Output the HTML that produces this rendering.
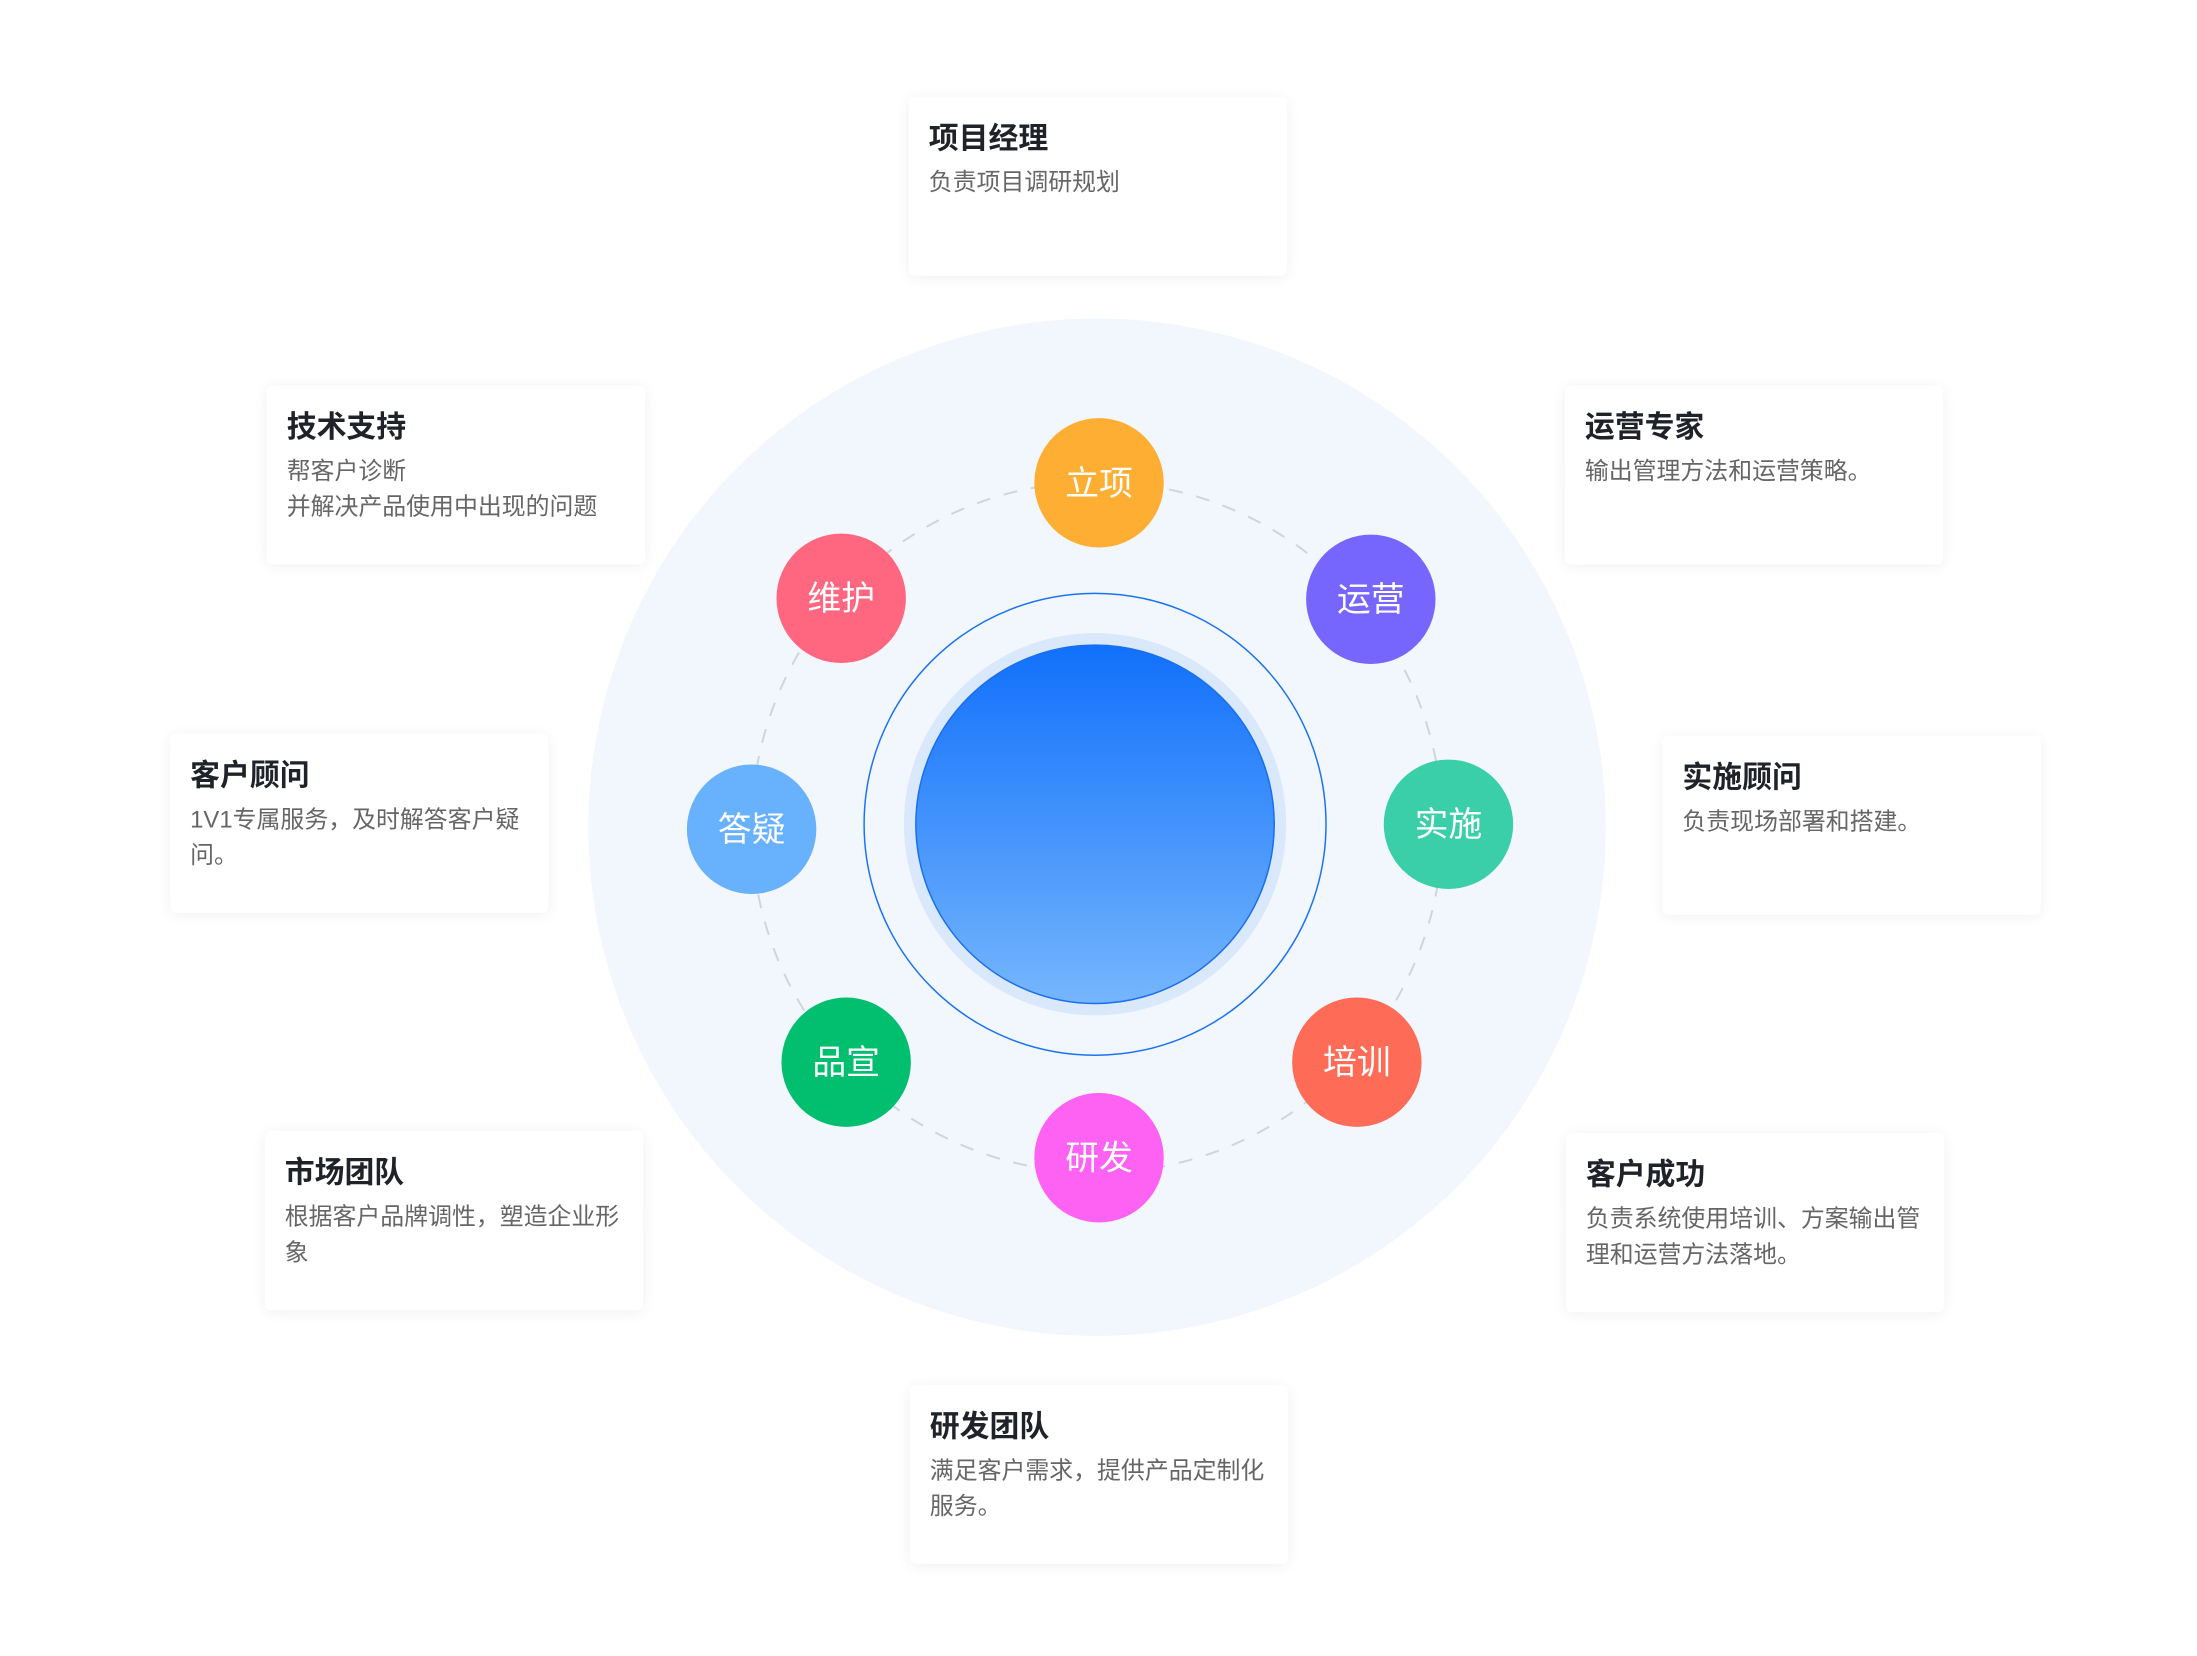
<!DOCTYPE html>
<html><head><meta charset="utf-8"><style>
body{margin:0;width:2197px;height:1656px;background:#fff;position:relative;overflow:hidden;font-family:"Liberation Sans","Noto Sans CJK SC",sans-serif}
#w{position:absolute;left:0;top:0;width:2197px;height:1656px;transform:scale(0.9955);transform-origin:0 0}
.box{position:absolute;width:380px;height:180px;background:#fff;border-radius:6px;box-shadow:0 2px 14px rgba(0,0,0,0.06);box-sizing:border-box;padding:25px 20px}
.box h3{margin:0;font-size:30px;font-weight:bold;color:#1f2329;line-height:36px}
.box p{margin:8px 0 0;font-size:24px;color:#666;line-height:36px}
svg{position:absolute;left:0;top:0}
</style></head><body><div id="w">
<svg width="2197" height="1656">
<defs><linearGradient id="g" x1="0" y1="0" x2="0" y2="1"><stop offset="0" stop-color="#1170fb"/><stop offset="1" stop-color="#75b6fd"/></linearGradient></defs>
<circle cx="1102" cy="831" r="511" fill="#f2f7fd"/>
<circle cx="1102" cy="831" r="347" fill="none" stroke="#d0d4db" stroke-width="2" stroke-dasharray="14 14"/>
<circle cx="1100" cy="828" r="232" fill="none" stroke="#1a73f5" stroke-width="1.5"/>
<circle cx="1100" cy="828" r="192" fill="#dae8fc"/>
<circle cx="1100" cy="828" r="180" fill="url(#g)" stroke="#1a6ff0" stroke-width="1.5"/>
<g font-size="34" fill="#fff" text-anchor="middle" font-family="Liberation Sans,Noto Sans CJK SC,sans-serif">
<circle cx="1104" cy="485" r="65" fill="#fdae33"/><text x="1104" y="497">立项</text>
<circle cx="1377" cy="602" r="65" fill="#7666fe"/><text x="1377" y="614">运营</text>
<circle cx="1455" cy="828" r="65" fill="#3bcfa9"/><text x="1455" y="840">实施</text>
<circle cx="1363" cy="1067" r="65" fill="#fe6b56"/><text x="1363" y="1079">培训</text>
<circle cx="1104" cy="1163" r="65" fill="#fd62f2"/><text x="1104" y="1175">研发</text>
<circle cx="850" cy="1067" r="65" fill="#02bf6f"/><text x="850" y="1079">品宣</text>
<circle cx="755" cy="833" r="65" fill="#67b1fd"/><text x="755" y="845">答疑</text>
<circle cx="845" cy="601" r="65" fill="#ff6680"/><text x="845" y="613">维护</text>
</g>
<g fill="#fff">
<polygon points="1074,276 1092,276 1083,287"/>
<polygon points="1095,1391 1113,1391 1104,1378"/>
<polygon points="649,470 649,488 660,479"/>
<polygon points="550,818 550,836 561,827"/>
<polygon points="646,1217 646,1235 657,1226"/>
<polygon points="1572,470 1572,488 1561,479"/>
<polygon points="1670,818 1670,836 1659,827"/>
<polygon points="1573,1217 1573,1235 1562,1226"/>
</g>
</svg>
<div class="box" style="left:913px;top:97px"><h3>项目经理</h3><p>负责项目调研规划</p></div>
<div class="box" style="left:268px;top:387px"><h3>技术支持</h3><p>帮客户诊断<br>并解决产品使用中出现的问题</p></div>
<div class="box" style="left:1572px;top:387px"><h3>运营专家</h3><p>输出管理方法和运营策略。</p></div>
<div class="box" style="left:171px;top:737px"><h3>客户顾问</h3><p>1V1专属服务，及时解答客户疑问。</p></div>
<div class="box" style="left:1670px;top:739px"><h3>实施顾问</h3><p>负责现场部署和搭建。</p></div>
<div class="box" style="left:266px;top:1136px"><h3>市场团队</h3><p>根据客户品牌调性，塑造企业形象</p></div>
<div class="box" style="left:1573px;top:1138px"><h3>客户成功</h3><p>负责系统使用培训、方案输出管理和运营方法落地。</p></div>
<div class="box" style="left:914px;top:1391px"><h3>研发团队</h3><p>满足客户需求，提供产品定制化服务。</p></div>
</div></body></html>
